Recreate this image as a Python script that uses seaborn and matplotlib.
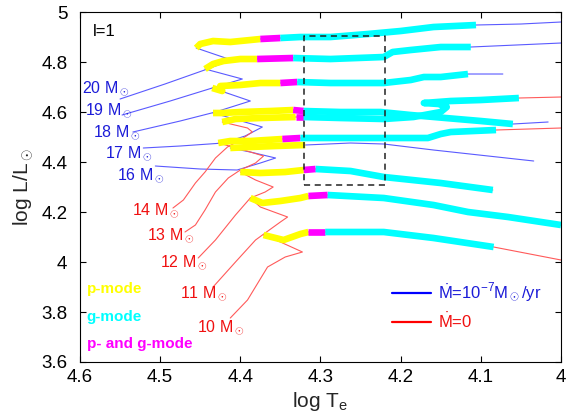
import matplotlib
matplotlib.use('Agg')
import matplotlib.pyplot as plt
import seaborn as sns
from matplotlib.lines import Line2D

sns.set_style('ticks')
plt.rcParams['font.family'] = ['Liberation Sans', 'DejaVu Sans']
plt.rcParams['mathtext.fontset'] = 'custom'
plt.rcParams['mathtext.rm'] = 'Liberation Sans'
plt.rcParams['mathtext.it'] = 'Liberation Sans:italic'
plt.rcParams['mathtext.bf'] = 'Liberation Sans:bold'

# ---------------- data (log Te, log L/Lsun) ----------------
# each track: full path; seg = [thick start, yellow end, magenta end, thick end]
m20_T = [4.55, 4.494, 4.441, 4.411, 4.455, 4.45, 4.434, 4.4125, 4.375, 4.35, 4.325, 4.2875, 4.241, 4.2, 4.159, 4.106, 4.05, 4.0]
m20_L = [4.652, 4.712, 4.772, 4.808, 4.856, 4.872, 4.884, 4.88, 4.892, 4.896, 4.9, 4.9, 4.912, 4.924, 4.94, 4.948, 4.952, 4.96]
m20_seg = [4, 8, 9, 15]

m19_T = [4.5475, 4.4875, 4.435, 4.3975, 4.444, 4.434, 4.421, 4.4, 4.379, 4.334, 4.2875, 4.221, 4.21, 4.1875, 4.15, 4.1125, 4.056, 4.0]
m19_L = [4.588, 4.644, 4.696, 4.732, 4.772, 4.792, 4.804, 4.812, 4.812, 4.816, 4.812, 4.82, 4.84, 4.848, 4.86, 4.86, 4.868, 4.876]
m19_seg = [4, 8, 9, 15]

m18_T = [4.534, 4.475, 4.431, 4.3875, 4.435, 4.4225, 4.425, 4.4, 4.375, 4.35, 4.329, 4.2875, 4.221, 4.1875, 4.171, 4.15, 4.116, 4.0725]
m18_L = [4.52, 4.564, 4.6, 4.644, 4.696, 4.684, 4.704, 4.708, 4.716, 4.716, 4.72, 4.716, 4.716, 4.728, 4.74, 4.74, 4.752, 4.752]
m18_seg = [4, 9, 10, 16]

m17_T = [4.521, 4.475, 4.421, 4.394, 4.3725, 4.434, 4.4225, 4.4, 4.3625, 4.334, 4.321, 4.275, 4.225, 4.1875, 4.144, 4.1, 4.06, 4.016]
m17_L = [4.456, 4.464, 4.476, 4.504, 4.54, 4.596, 4.596, 4.6, 4.604, 4.608, 4.604, 4.6, 4.6, 4.588, 4.576, 4.564, 4.552, 4.56]
m17_seg = [5, 9, 10, 16]

m16_T = [4.506, 4.45, 4.404, 4.375, 4.356, 4.3875, 4.4125, 4.3875, 4.356, 4.319, 4.2625, 4.221, 4.159, 4.034]
m16_L = [4.384, 4.372, 4.368, 4.396, 4.416, 4.44, 4.456, 4.46, 4.464, 4.468, 4.476, 4.472, 4.448, 4.404]
m16_seg = [6, 9, 9, 9]

m14_T = [4.484, 4.471, 4.456, 4.444, 4.431, 4.416, 4.4, 4.385, 4.391, 4.4225, 4.406, 4.375, 4.331, 4.321, 4.275, 4.221, 4.184, 4.15, 4.1425, 4.1525, 4.171, 4.1375, 4.1, 4.0525, 4.0]
m14_L = [4.216, 4.248, 4.316, 4.36, 4.416, 4.46, 4.488, 4.52, 4.536, 4.56, 4.572, 4.576, 4.58, 4.58, 4.576, 4.572, 4.58, 4.6, 4.62, 4.632, 4.636, 4.644, 4.648, 4.656, 4.66]
m14_seg = [9, 12, 13, 23]

m13_T = [4.469, 4.456, 4.444, 4.431, 4.415, 4.4, 4.381, 4.371, 4.4, 4.4275, 4.4125, 4.3875, 4.3475, 4.325, 4.275, 4.225, 4.166, 4.15, 4.1375, 4.081, 4.0]
m13_L = [4.12, 4.148, 4.208, 4.28, 4.336, 4.368, 4.396, 4.424, 4.452, 4.476, 4.484, 4.484, 4.492, 4.496, 4.496, 4.496, 4.496, 4.512, 4.52, 4.528, 4.536]
m13_seg = [9, 12, 13, 19]

m12_T = [4.4525, 4.431, 4.406, 4.3875, 4.369, 4.359, 4.381, 4.4, 4.375, 4.344, 4.321, 4.306, 4.2625, 4.221, 4.15, 4.085]
m12_L = [4.016, 4.088, 4.188, 4.256, 4.28, 4.3, 4.328, 4.36, 4.356, 4.36, 4.368, 4.372, 4.364, 4.34, 4.316, 4.288]
m12_seg = [7, 10, 11, 15]

m11_T = [4.434, 4.406, 4.381, 4.369, 4.35, 4.341, 4.375, 4.3875, 4.3725, 4.35, 4.325, 4.315, 4.291, 4.221, 4.159, 4.116, 4.066, 4.0]
m11_L = [3.9, 4.0, 4.088, 4.116, 4.16, 4.18, 4.22, 4.256, 4.236, 4.244, 4.256, 4.264, 4.268, 4.256, 4.228, 4.2, 4.18, 4.148]
m11_seg = [7, 11, 12, 17]

m10_T = [4.4125, 4.391, 4.366, 4.344, 4.3225, 4.35, 4.371, 4.346, 4.325, 4.315, 4.294, 4.221, 4.159, 4.084, 4.0]
m10_L = [3.776, 3.848, 3.98, 4.02, 4.04, 4.08, 4.108, 4.088, 4.112, 4.12, 4.12, 4.12, 4.096, 4.06, 4.008]
m10_seg = [6, 9, 10, 13]

mass_labels = ['20', '19', '18', '17', '16', '14', '13', '12', '11', '10']
label_T = [4.5975, 4.594, 4.584, 4.569, 4.554, 4.535, 4.516, 4.5, 4.475, 4.454]
label_L = [4.676, 4.588, 4.50, 4.416, 4.328, 4.188, 4.088, 3.98, 3.856, 3.72]

box_T = [4.32, 4.22]
box_L = [4.31, 4.905]

x_ticks = [4.6, 4.5, 4.4, 4.3, 4.2, 4.1, 4.0]
x_tick_labels = ['4.6', '4.5', '4.4', '4.3', '4.2', '4.1', '4']
y_ticks = [3.6, 3.8, 4.0, 4.2, 4.4, 4.6, 4.8, 5.0]
y_tick_labels = ['3.6', '3.8', '4', '4.2', '4.4', '4.6', '4.8', '5']

mode_names = ['p-mode', 'g-mode', 'p- and g-mode']
mode_colors = ['#ffff00', '#00ffff', '#ff00ff']

# ---------------- styles ----------------
BLUE_THIN = '#5a5aff'
RED_THIN = '#ff5a5a'
BLUE_TXT = '#1c1cd8'
RED_TXT = '#f01010'

blue_tracks = [(m20_T, m20_L, m20_seg), (m19_T, m19_L, m19_seg), (m18_T, m18_L, m18_seg),
               (m17_T, m17_L, m17_seg), (m16_T, m16_L, m16_seg)]
red_tracks = [(m14_T, m14_L, m14_seg), (m13_T, m13_L, m13_seg), (m12_T, m12_L, m12_seg),
              (m11_T, m11_L, m11_seg), (m10_T, m10_L, m10_seg)]

fig = plt.figure(figsize=(5.68, 4.2), dpi=100)
ax = fig.add_axes([0.1408, 0.1381, 0.8468, 0.8333])

for tracks, col in [(blue_tracks, BLUE_THIN), (red_tracks, RED_THIN)]:
    for T, L, seg in tracks:
        sns.lineplot(x=T, y=L, sort=False, estimator=None, color=col,
                     linewidth=0.8, ax=ax, legend=False)

THICK = 4.8
for T, L, seg in blue_tracks + red_tracks:
    s, ye, me, e = seg
    for a, b, c in [(s, ye, mode_colors[0]), (ye, me, mode_colors[2]), (me, e, mode_colors[1])]:
        if b > a:
            sns.lineplot(x=T[a:b + 1], y=L[a:b + 1], sort=False, estimator=None,
                         color=c, linewidth=THICK, ax=ax, legend=False,
                         solid_capstyle='butt', solid_joinstyle='round')

ax.plot([box_T[0], box_T[1], box_T[1], box_T[0], box_T[0]],
        [box_L[0], box_L[0], box_L[1], box_L[1], box_L[0]],
        color='#222222', linewidth=1.1, linestyle=(0, (4, 3)), zorder=5)

for i, (m, t, l) in enumerate(zip(mass_labels, label_T, label_L)):
    col = BLUE_TXT if i < 5 else RED_TXT
    ax.text(t, l, m + r' $\mathrm{M}_\odot$', color=col, fontsize=11.5,
            ha='left', va='baseline')

ax.text(4.584, 4.924, 'l=1', fontsize=12, ha='left', va='center', color='black')

mode_L = [3.892, 3.78, 3.672]
for name, c, l in zip(mode_names, mode_colors, mode_L):
    ax.text(4.5915, l, name, color=c, fontsize=11, fontweight='bold',
            ha='left', va='center')

handles = [Line2D([], [], color='#0000ff', linewidth=1.6),
           Line2D([], [], color='#ff0000', linewidth=1.6)]
ax.legend(handles, [r'$\dot{\mathrm{M}}$=10$^{-7}$$\mathrm{M}_\odot$/yr', r'$\dot{\mathrm{M}}$=0'],
          loc='center left', bbox_to_anchor=(0.6486, 0.1586), frameon=False,
          fontsize=12, handlelength=2.35, handletextpad=0.4, labelspacing=0.45,
          borderpad=0, borderaxespad=0, labelcolor=[BLUE_TXT, RED_TXT])

ax.set_xlim(4.6, 4.0)
ax.set_ylim(3.6, 5.0)
ax.set_xticks(x_ticks)
ax.set_xticklabels(x_tick_labels)
ax.set_yticks(y_ticks)
ax.set_yticklabels(y_tick_labels)
ax.tick_params(direction='in', top=True, right=True, length=4, width=0.8,
               labelsize=13.5, colors='black')
ax.tick_params(axis='x', pad=5)
ax.tick_params(axis='y', pad=9)
for sp in ax.spines.values():
    sp.set_linewidth(0.8)
    sp.set_color('black')
ax.set_xlabel(r'log $\mathrm{T}_\mathrm{e}$', fontsize=15, labelpad=3)
ax.set_ylabel(r'log L/$\mathrm{L}_\odot$', fontsize=15, labelpad=4)

fig.savefig('out.png', dpi=100)
